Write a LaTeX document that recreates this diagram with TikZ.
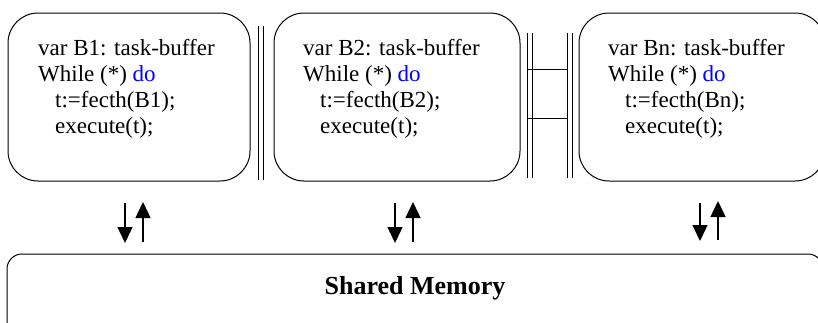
\documentclass[tikz,border=0pt]{standalone}
\usepackage{fontspec}
\setmainfont{Liberation Serif}
\usetikzlibrary{arrows.meta}
\definecolor{kwblue}{RGB}{0,0,255}
\tikzset{
  procbox/.style={draw, line width=1pt, rounded corners=30pt, minimum width=#1, minimum height=168pt, inner sep=0pt},
  membox/.style={draw, line width=1pt, rounded corners=15pt, minimum width=816pt, minimum height=91pt, inner sep=0pt},
  code/.style={anchor=base west, inner sep=0pt, font=\fontsize{23}{26}\selectfont},
  sep/.style={line width=0.9pt},
  xfer/.style={line width=1.4pt, -{Triangle[width=15pt,length=16pt]}},
}
\begin{document}
\begin{tikzpicture}[x=1pt,y=-1pt]
  \useasboundingbox (0,0) rectangle (818,322);
  \clip (0,0) rectangle (818,322);

  % processor boxes
  \node[procbox=242pt] (p1) at (129,97) {};
  \node[procbox=246pt] (p2) at (397,97) {};
  \node[procbox=246pt] (p3) at (702,97) {};

  % program text of each processor
  \node[code] (p1l1) at (38,55)  {var B1: task-buffer};
  \node[code] (p1l2) at (38,81)  {While (*) \textcolor{kwblue}{do}};
  \node[code] (p1l3) at (55,107) {t:=fecth(B1);};
  \node[code] (p1l4) at (55,133) {execute(t);};

  \node[code] (p2l1) at (303,55)  {var B2: task-buffer};
  \node[code] (p2l2) at (303,81)  {While (*) \textcolor{kwblue}{do}};
  \node[code] (p2l3) at (320,107) {t:=fecth(B2);};
  \node[code] (p2l4) at (320,133) {execute(t);};

  \node[code] (p3l1) at (608,55)  {var Bn: task-buffer};
  \node[code] (p3l2) at (608,81)  {While (*) \textcolor{kwblue}{do}};
  \node[code] (p3l3) at (625,107) {t:=fecth(Bn);};
  \node[code] (p3l4) at (625,133) {execute(t);};

  % separators between processors
  \draw[sep] (258,26) -- (258,180);
  \draw[sep] (263,26) -- (263,180);
  \draw[sep] (527,33) -- (527,178);
  \draw[sep] (532.5,33) -- (532.5,178);
  \draw[sep] (567,33) -- (567,178);
  \draw[sep] (572,33) -- (572,178);
  \draw[sep] (527,69) rectangle (567.5,118);

  % shared memory
  \node[membox] (mem) at (415,299.5) {};
  \node[anchor=base, inner sep=0pt, font=\fontsize{26}{30}\selectfont\bfseries] (memlabel) at (415,294) {Shared Memory};

  % read / write arrows
  \coordinate (d1a) at (125,203); \coordinate (d1b) at (125,243);
  \coordinate (u1a) at (143,242); \coordinate (u1b) at (143,202);
  \coordinate (d2a) at (395,203); \coordinate (d2b) at (395,243);
  \coordinate (u2a) at (413,242); \coordinate (u2b) at (413,202);
  \coordinate (d3a) at (700,203); \coordinate (d3b) at (700,241);
  \coordinate (u3a) at (718,240); \coordinate (u3b) at (718,201);
  \draw[xfer] (d1a) -- (d1b);
  \draw[xfer] (u1a) -- (u1b);
  \draw[xfer] (d2a) -- (d2b);
  \draw[xfer] (u2a) -- (u2b);
  \draw[xfer] (d3a) -- (d3b);
  \draw[xfer] (u3a) -- (u3b);
\end{tikzpicture}
\end{document}
